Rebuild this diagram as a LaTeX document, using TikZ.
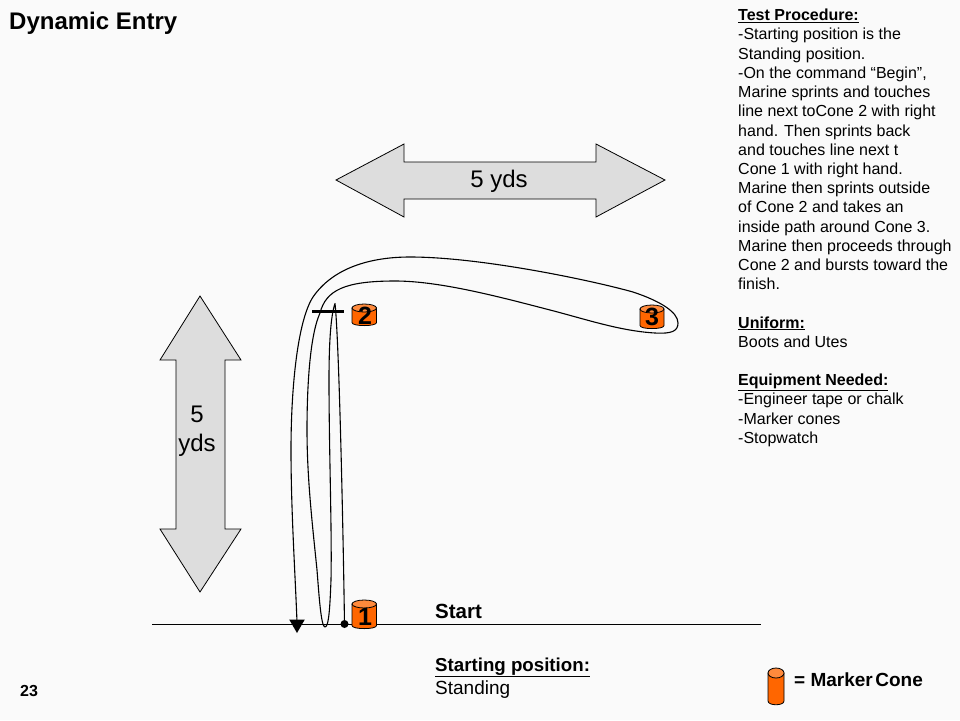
\documentclass[tikz,border=0pt]{standalone}
\usepackage{fontspec}
\setmainfont{Liberation Sans}
\usetikzlibrary{shapes.geometric,arrows.meta}
\definecolor{pagebg}{HTML}{FAFAFA}
\definecolor{conefill}{HTML}{FF6600}
\definecolor{conetop}{HTML}{FF8A3C}
\definecolor{arrowgray}{HTML}{DDDDDD}
\tikzset{
  conedigit/.style={inner sep=0pt,font=\fontsize{25}{25}\selectfont\bfseries},
  conebody/.style={draw=black,line width=0.8pt,fill=conefill},
  conecap/.style={draw=black,line width=0.8pt,fill=conetop},
  bigarrow/.style={draw=black,line width=0.8pt,fill=arrowgray},
  label24/.style={font=\fontsize{24}{29}\selectfont,align=center,inner sep=0pt},
  bold19/.style={font=\fontsize{18.7}{22}\selectfont\bfseries,anchor=base west,inner sep=0pt},
  plain19/.style={font=\fontsize{19}{22}\selectfont,anchor=base west,inner sep=0pt},
  runpath/.style={draw=black,line width=1.1pt,line join=round},
}
% left x, top y, right x, bottom y, cap half height
\newcommand{\markercone}[5]{%
  \path[conebody] (#1,#2) -- (#1,#4-#5*0.6)
    .. controls (#1,#4+#5*0.4) and (#3,#4+#5*0.4) .. (#3,#4-#5*0.6) -- (#3,#2) -- cycle;
  \path[conecap] ({(#1+#3)/2},#2) ellipse [x radius={(#3-#1)/2},y radius=#5];
}
\begin{document}
\begin{tikzpicture}[x=1pt,y=-1pt]
\useasboundingbox (0,0) rectangle (960,720);
\fill[pagebg] (0,0) rectangle (960,720);
% title and number
\node[anchor=base west,inner sep=0pt,font=\fontsize{24}{28}\selectfont\bfseries] (title) at (9,29) {Dynamic Entry};
\node[anchor=base west,inner sep=0pt,font=\fontsize{16}{20}\selectfont\bfseries] (num) at (20,696) {23};
% right-hand column
\node[anchor=north west,inner sep=0pt,align=left,font=\fontsize{16}{19.2}\selectfont] (proc) at (738,9) {%
\textbf{\underline{Test Procedure:}}\\
-Starting position is the\\
Standing position.\\
-On the command “Begin”,\\
Marine sprints and touches\\
line next toCone 2 with right\\
hand. Then sprints back\\
and touches line next t\\
Cone 1 with right hand.\\
Marine then sprints outside\\
of Cone 2 and takes an\\
inside path around Cone 3.\\
Marine then proceeds through\\
Cone 2 and bursts toward the\\
finish.\\[19.2pt]
\textbf{\underline{Uniform:}}\\
Boots and Utes\\[19.2pt]
\textbf{\underline{Equipment Needed:}}\\
-Engineer tape or chalk\\
-Marker cones\\
-Stopwatch};
% block arrows
\draw[bigarrow] (336,180) -- (404,144) -- (404,162) -- (596,162) -- (596,144) -- (665,180) -- (596,217) -- (596,199) -- (404,199) -- (404,217) -- cycle;
\node[label24] (hlabel) at (499,181) {5 yds};
\draw[bigarrow] (200,296) -- (241,360) -- (225,360) -- (225,529) -- (241,529) -- (200,592) -- (160,529) -- (176,529) -- (176,360) -- (160,360) -- cycle;
\node[label24] (vlabel) at (197,431) {5\\yds};
% start line
\coordinate (lineL) at (152,624);
\coordinate (lineR) at (761,624);
\draw[black,line width=1pt] (lineL) -- (lineR);
% tape at cone 2
\coordinate (tapeL) at (312,311);
\coordinate (tapeR) at (344,311);
\draw[black,line width=3pt] (tapeL) -- (tapeR);
% cones
\markercone{352}{604}{376.5}{628}{4}
\markercone{352}{308}{376.5}{325}{4}
\markercone{640}{309}{664}{328}{4}
\node[conedigit] (c1) at (365,617) {1};
\node[conedigit] (c2) at (365,316) {2};
\node[conedigit] (c3) at (652,317) {3};
% dot and arrow end
\node[circle,fill=black,inner sep=0pt,minimum size=8pt] (dot) at (344.5,624) {};
\coordinate (endpt) at (297,622);
% running path
\draw[runpath] (dot.center) .. controls (343,520) and (339,340) .. (335,303.5)
  .. controls (331,315) and (329,340) .. (329,380)
  .. controls (329,450) and (332,530) .. (331,580)
  .. controls (330,605) and (329,627) .. (325,627)
  .. controls (321,627) and (319,595) .. (317,570)
  .. controls (313,530) and (307,480) .. (307,430)
  .. controls (307,385) and (310,335) .. (320,313)
  .. controls (326,290) and (345,281) .. (395,281)
  .. controls (440,281) and (500,297) .. (550,310)
  .. controls (585,319) and (620,331) .. (655,333)
  .. controls (672,334) and (678,331) .. (678,323)
  .. controls (678,312) and (660,301) .. (633,292)
  .. controls (590,280) and (480,257) .. (410,257)
  .. controls (370,257) and (333,268) .. (313,297)
  .. controls (298,320) and (291,385) .. (291,450)
  .. controls (291,510) and (295,570) .. (endpt);
\node[regular polygon,regular polygon sides=3,shape border rotate=180,fill=black,inner sep=0pt,minimum size=18pt] (tip) at (297,624) {};
% labels at the bottom
\node[bold19,font=\fontsize{20.5}{22}\selectfont\bfseries] (start) at (435,618) {Start};
\node[bold19] (spos) at (435,671) {\underline{Starting position:}};
\node[plain19] (stand) at (435,694) {Standing};
% legend
\markercone{768}{673}{784}{704}{5}
\node[anchor=base west,inner sep=0pt,font=\fontsize{19}{20}\selectfont\bfseries] (legt) at (794,686) {= Marker\hspace{2.5pt}Cone};
\end{tikzpicture}
\end{document}
